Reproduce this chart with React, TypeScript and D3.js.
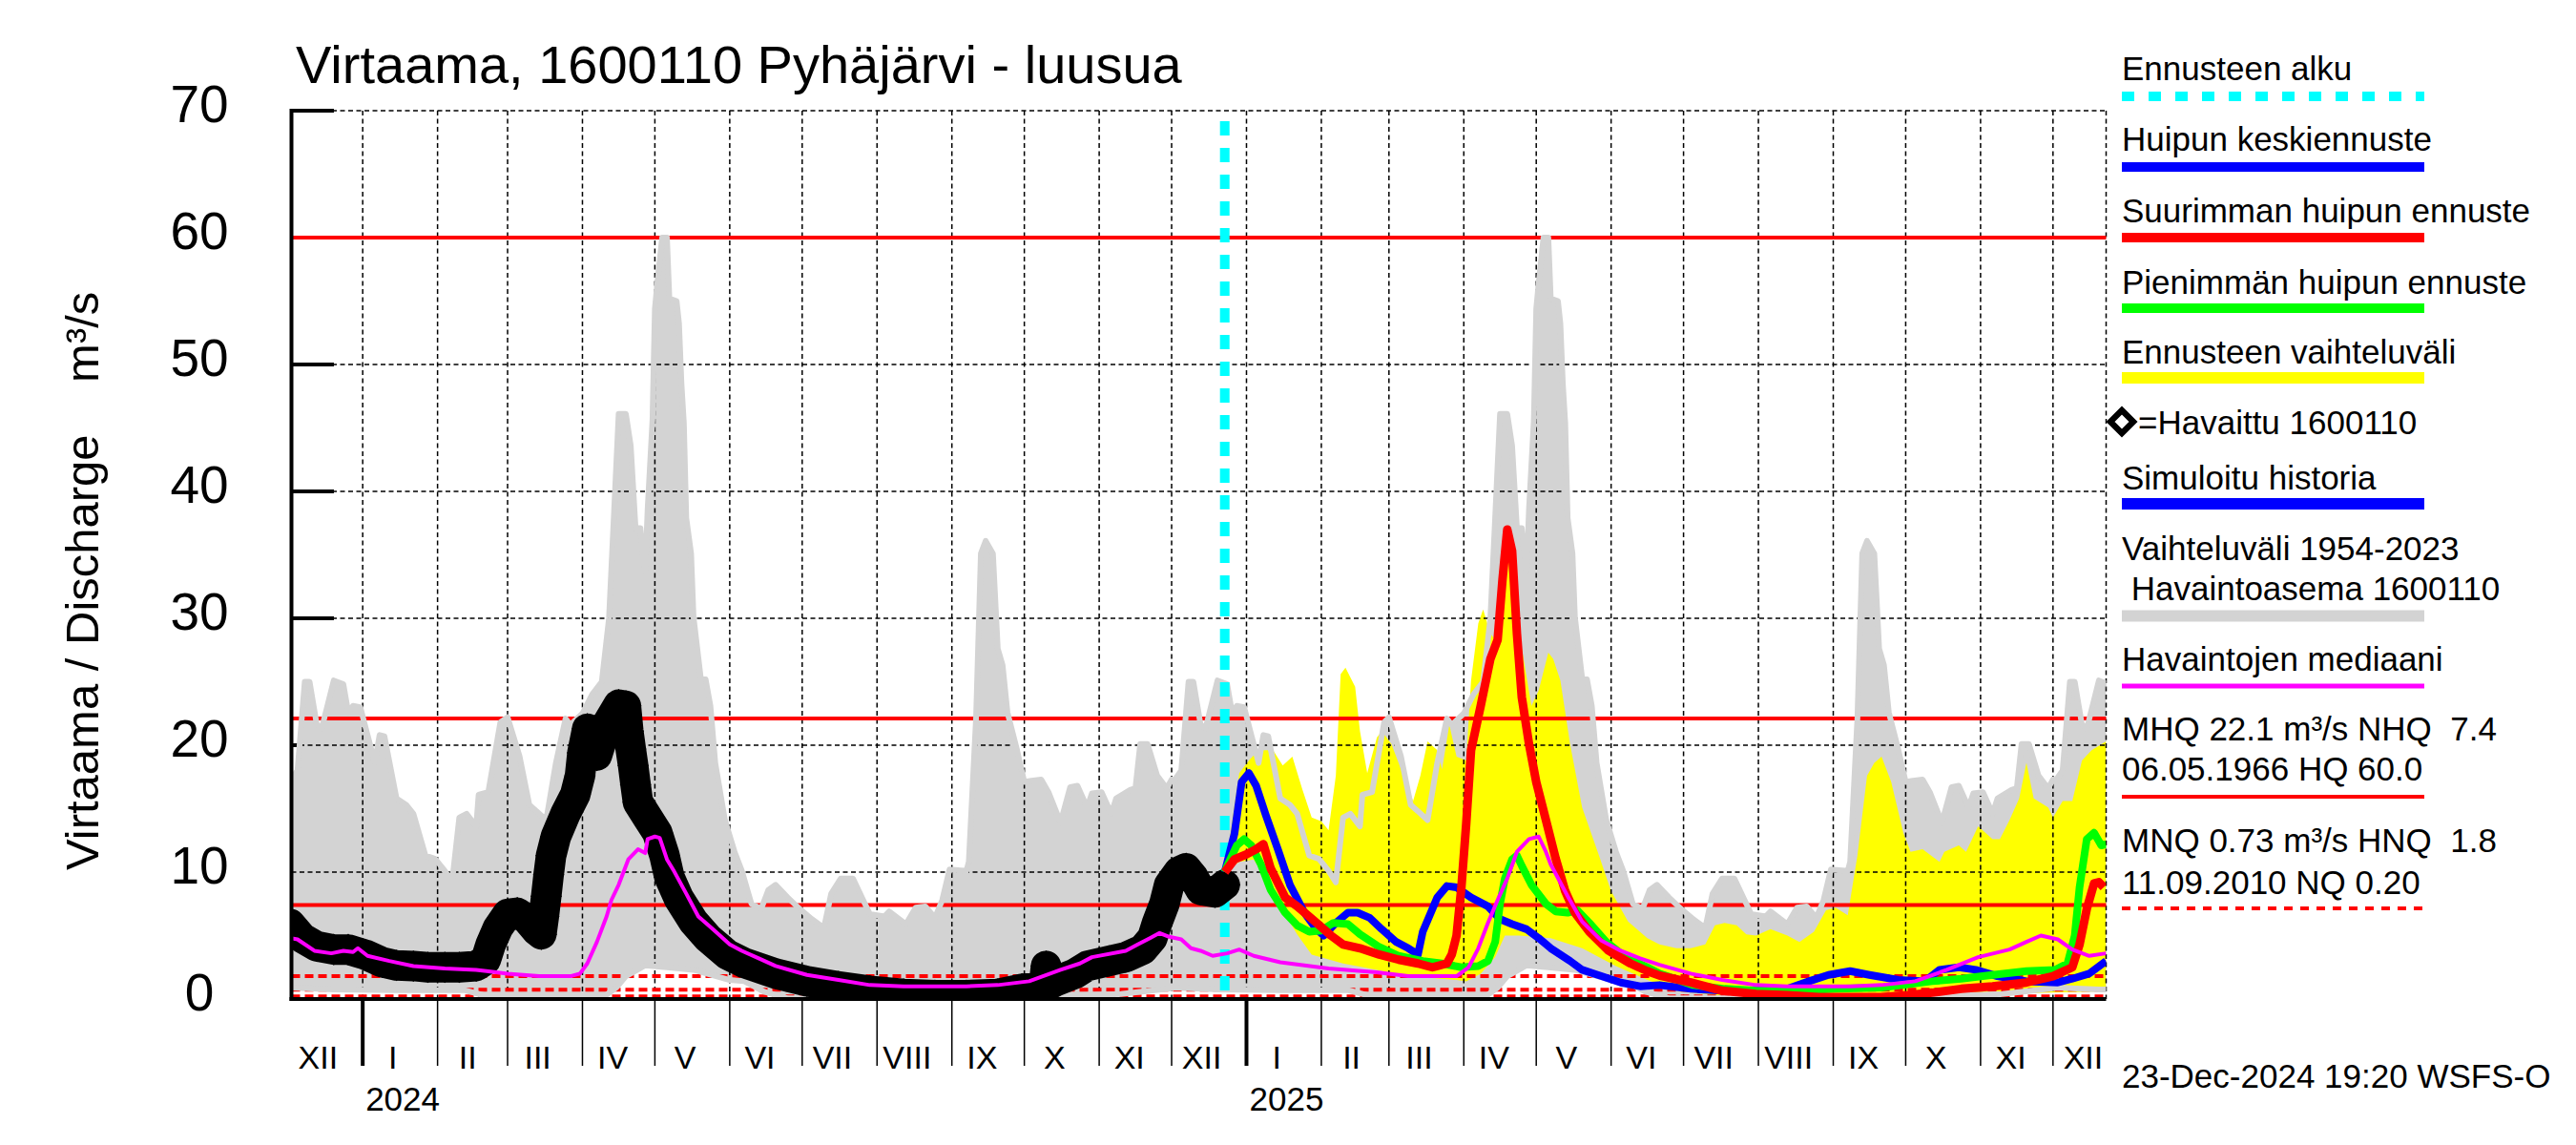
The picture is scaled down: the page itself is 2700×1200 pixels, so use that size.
import * as d3 from 'd3'

type Pt = [string, number]
interface Datum { date: Date; value: number }

const W = 2700
const H = 1200
const plotLeft = 305.5
const plotRight = 2207.5
const plotTop = 116
const plotBottom = 1047
const font = "'Liberation Sans', Arial, Helvetica, sans-serif"

// observed daily discharge (read every few days)
const observed: Pt[] = [
  ['2023-12-02', 5.9], ['2023-12-07', 4.8], ['2023-12-13', 4.15], ['2023-12-20', 3.9], ['2023-12-26', 3.9],
  ['2024-01-02', 3.5], ['2024-01-09', 2.9], ['2024-01-15', 2.65], ['2024-01-22', 2.6], ['2024-01-28', 2.5],
  ['2024-02-04', 2.5], ['2024-02-10', 2.5], ['2024-02-17', 2.6], ['2024-02-21', 3.1], ['2024-02-23', 4.3],
  ['2024-02-26', 5.6], ['2024-03-01', 6.7], ['2024-03-05', 6.8], ['2024-03-09', 6.3], ['2024-03-13', 5.4],
  ['2024-03-15', 5.1], ['2024-03-16', 6.5], ['2024-03-17', 8.1], ['2024-03-18', 9.8], ['2024-03-19', 11.3],
  ['2024-03-21', 12.8], ['2024-03-25', 14.6], ['2024-03-29', 16.1], ['2024-03-31', 17.6], ['2024-04-01', 19.4],
  ['2024-04-03', 21.3], ['2024-04-07', 19.2], ['2024-04-11', 21.6], ['2024-04-16', 23.2], ['2024-04-19', 23.1],
  ['2024-04-20', 21.1], ['2024-04-21', 19.7], ['2024-04-22', 18.4], ['2024-04-23', 16.9], ['2024-04-24', 15.5],
  ['2024-04-28', 14.3], ['2024-05-02', 13.1], ['2024-05-05', 11.3], ['2024-05-07', 9.6], ['2024-05-11', 7.9],
  ['2024-05-17', 6.1], ['2024-05-23', 4.8], ['2024-05-31', 3.5], ['2024-06-07', 2.85], ['2024-06-20', 2.0],
  ['2024-07-03', 1.4], ['2024-07-16', 1.0], ['2024-07-29', 0.65], ['2024-08-12', 0.4], ['2024-08-25', 0.3],
  ['2024-09-07', 0.3], ['2024-09-20', 0.4], ['2024-09-30', 0.8], ['2024-10-09', 1.0], ['2024-10-10', 2.6],
  ['2024-10-11', 1.1], ['2024-10-14', 1.4], ['2024-10-22', 2.0], ['2024-10-27', 2.6], ['2024-11-05', 3.0],
  ['2024-11-12', 3.3], ['2024-11-19', 3.9], ['2024-11-23', 4.8], ['2024-11-25', 6.0], ['2024-11-28', 7.5],
  ['2024-11-30', 9.0], ['2024-12-04', 10.05], ['2024-12-07', 10.3], ['2024-12-10', 9.6], ['2024-12-13', 8.6],
  ['2024-12-19', 8.4], ['2024-12-23', 9.0],
]

// simulated history (mostly hidden under the observations)
const simulated: Pt[] = [
  ['2023-12-02', 5.6], ['2023-12-20', 3.8], ['2024-01-15', 2.7], ['2024-02-17', 2.6], ['2024-02-26', 5.4],
  ['2024-03-05', 6.6], ['2024-03-15', 5.3], ['2024-03-17', 8.1], ['2024-03-19', 11.3], ['2024-03-29', 18.1],
  ['2024-03-31', 16.8], ['2024-04-02', 21.3], ['2024-04-16', 22.6], ['2024-04-20', 19.8], ['2024-04-22', 16.9],
  ['2024-05-02', 13.0], ['2024-05-17', 6.0], ['2024-06-20', 2.0], ['2024-08-12', 0.45], ['2024-09-20', 0.45],
  ['2024-10-22', 2.0], ['2024-11-19', 3.9], ['2024-11-28', 7.4], ['2024-12-07', 10.2], ['2024-12-19', 8.4],
  ['2024-12-23', 9.0],
]

// 1954-2023 range, one year from 2 Dec, repeated for following years
const climateMax: Pt[] = [
  ['2023-12-02', 17.2], ['2023-12-05', 18.0], ['2023-12-08', 25.0], ['2023-12-10', 25.0], ['2023-12-13', 21.6],
  ['2023-12-15', 21.3], ['2023-12-20', 25.1], ['2023-12-24', 24.8], ['2023-12-26', 22.6], ['2023-12-28', 23.1],
  ['2023-12-31', 23.0], ['2024-01-03', 20.8], ['2024-01-06', 18.6], ['2024-01-08', 20.8], ['2024-01-10', 20.7],
  ['2024-01-15', 15.8], ['2024-01-19', 15.3], ['2024-01-22', 14.6], ['2024-01-27', 11.3], ['2024-01-31', 11.05],
  ['2024-02-04', 10.1], ['2024-02-07', 9.2], ['2024-02-10', 14.3], ['2024-02-13', 14.6], ['2024-02-17', 13.6],
  ['2024-02-18', 16.1], ['2024-02-22', 16.3], ['2024-02-27', 21.8], ['2024-03-01', 22.2], ['2024-03-06', 19.1],
  ['2024-03-10', 15.3], ['2024-03-13', 14.8], ['2024-03-17', 14.1], ['2024-03-21', 18.6], ['2024-03-25', 22.1],
  ['2024-03-27', 21.6], ['2024-04-01', 22.5], ['2024-04-05', 24.0], ['2024-04-09', 25.0], ['2024-04-12', 30.0],
  ['2024-04-14', 38.0], ['2024-04-16', 46.1], ['2024-04-19', 46.1], ['2024-04-21', 43.6], ['2024-04-23', 37.1],
  ['2024-04-25', 37.1], ['2024-04-26', 35.1], ['2024-04-27', 33.7], ['2024-04-28', 38.6], ['2024-04-30', 45.6],
  ['2024-05-01', 54.4], ['2024-05-02', 56.4], ['2024-05-04', 60.0], ['2024-05-06', 60.0], ['2024-05-07', 55.2],
  ['2024-05-10', 55.0], ['2024-05-11', 53.2], ['2024-05-12', 48.5], ['2024-05-13', 45.4], ['2024-05-14', 37.9],
  ['2024-05-16', 35.1], ['2024-05-17', 30.1], ['2024-05-20', 25.3], ['2024-05-22', 25.2], ['2024-05-24', 23.1],
  ['2024-05-26', 18.6], ['2024-05-30', 14.1], ['2024-06-03', 11.6], ['2024-06-06', 10.1], ['2024-06-10', 7.5],
  ['2024-06-14', 7.1], ['2024-06-17', 8.6], ['2024-06-20', 9.0], ['2024-06-25', 8.0], ['2024-06-30', 7.1],
  ['2024-07-05', 6.3], ['2024-07-10', 5.6], ['2024-07-13', 8.3], ['2024-07-17', 9.5], ['2024-07-22', 9.5],
  ['2024-07-27', 7.5], ['2024-07-29', 6.7], ['2024-08-04', 6.5], ['2024-08-06', 6.9], ['2024-08-13', 5.9],
  ['2024-08-17', 7.2], ['2024-08-21', 7.3], ['2024-08-25', 6.4], ['2024-08-28', 7.8], ['2024-08-31', 10.2],
  ['2024-09-07', 10.1], ['2024-09-08', 10.8], ['2024-09-11', 22.1], ['2024-09-13', 35.1], ['2024-09-15', 36.1],
  ['2024-09-18', 35.1], ['2024-09-20', 27.6], ['2024-09-22', 26.3], ['2024-09-24', 22.6], ['2024-09-28', 19.6],
  ['2024-10-01', 17.1], ['2024-10-04', 17.2], ['2024-10-08', 17.3], ['2024-10-11', 16.3], ['2024-10-16', 13.9],
  ['2024-10-20', 16.7], ['2024-10-23', 16.8], ['2024-10-27', 15.1], ['2024-10-29', 16.2], ['2024-11-02', 16.3],
  ['2024-11-06', 14.6], ['2024-11-08', 15.8], ['2024-11-14', 16.5], ['2024-11-16', 16.6], ['2024-11-18', 20.1],
  ['2024-11-21', 20.1], ['2024-11-25', 17.6], ['2024-11-29', 16.6], ['2024-12-01', 17.3],
]

const climateMin: Pt[] = [
  ['2023-12-02', 0.9], ['2023-12-20', 0.75], ['2024-01-15', 0.7], ['2024-02-12', 0.7], ['2024-02-20', 0.3],
  ['2024-04-10', 0.2], ['2024-04-15', 0.9], ['2024-04-19', 1.8], ['2024-04-27', 2.65], ['2024-05-06', 2.5],
  ['2024-05-17', 2.3], ['2024-06-01', 1.5], ['2024-06-07', 1.4], ['2024-06-15', 0.6], ['2024-06-25', 0.05],
  ['2024-09-25', 0.05], ['2024-10-10', 0.2], ['2024-11-10', 0.4], ['2024-12-01', 0.85],
]

// forecast ensemble range
const forecastMax: Pt[] = [
  ['2024-12-23', 10.0], ['2024-12-29', 17.8], ['2025-01-02', 18.8], ['2025-01-06', 19.6], ['2025-01-12', 19.6],
  ['2025-01-16', 18.4], ['2025-01-20', 19.1], ['2025-01-24', 16.6], ['2025-01-28', 14.3], ['2025-02-01', 14.0],
  ['2025-02-04', 13.3], ['2025-02-07', 17.6], ['2025-02-09', 25.6], ['2025-02-11', 26.1], ['2025-02-15', 24.6],
  ['2025-02-17', 21.1], ['2025-02-20', 17.8], ['2025-02-24', 20.6], ['2025-02-26', 21.1], ['2025-03-02', 20.1],
  ['2025-03-07', 17.6], ['2025-03-11', 15.6], ['2025-03-14', 17.6], ['2025-03-17', 20.3], ['2025-03-21', 19.6],
  ['2025-03-23', 18.1], ['2025-03-26', 21.6], ['2025-03-29', 19.1], ['2025-04-02', 18.8], ['2025-04-04', 25.1],
  ['2025-04-07', 29.6], ['2025-04-09', 30.7], ['2025-04-12', 28.8], ['2025-04-14', 28.3], ['2025-04-15', 28.6],
  ['2025-04-17', 33.0], ['2025-04-19', 37.0], ['2025-04-21', 35.3], ['2025-04-24', 28.8], ['2025-04-29', 23.1],
  ['2025-05-02', 24.3], ['2025-05-06', 27.3], ['2025-05-08', 26.8], ['2025-05-11', 25.1], ['2025-05-15', 20.1],
  ['2025-05-20', 15.1], ['2025-05-27', 11.3], ['2025-06-01', 8.5], ['2025-06-08', 6.1], ['2025-06-16', 4.8],
  ['2025-06-21', 4.3], ['2025-06-28', 4.0], ['2025-07-04', 4.0], ['2025-07-10', 4.3], ['2025-07-14', 5.8],
  ['2025-07-18', 6.0], ['2025-07-23', 5.8], ['2025-07-27', 5.1], ['2025-07-31', 5.0], ['2025-08-06', 5.5],
  ['2025-08-13', 5.0], ['2025-08-18', 4.5], ['2025-08-24', 5.3], ['2025-08-29', 7.0], ['2025-09-02', 7.2],
  ['2025-09-07', 6.6], ['2025-09-11', 11.3], ['2025-09-15', 17.6], ['2025-09-18', 18.6], ['2025-09-21', 19.1],
  ['2025-09-25', 17.1], ['2025-09-30', 13.1], ['2025-10-03', 11.6], ['2025-10-08', 11.8], ['2025-10-15', 10.8],
  ['2025-10-17', 11.6], ['2025-10-23', 12.1], ['2025-10-26', 11.6], ['2025-10-31', 13.6], ['2025-11-06', 12.6],
  ['2025-11-09', 12.6], ['2025-11-13', 14.1], ['2025-11-17', 15.8], ['2025-11-20', 18.6], ['2025-11-23', 15.8],
  ['2025-11-29', 15.1], ['2025-12-01', 14.3], ['2025-12-05', 15.6], ['2025-12-09', 15.6], ['2025-12-13', 18.8],
  ['2025-12-17', 19.6], ['2025-12-23', 20.3],
]

const forecastMin: Pt[] = [
  ['2024-12-23', 10.0], ['2024-12-29', 10.8], ['2025-01-04', 11.0], ['2025-01-09', 9.5], ['2025-01-15', 7.3],
  ['2025-01-22', 5.1], ['2025-01-28', 3.5], ['2025-02-10', 2.8], ['2025-02-24', 2.3], ['2025-03-09', 1.8],
  ['2025-03-29', 1.5], ['2025-04-02', 1.4], ['2025-04-08', 2.0], ['2025-04-14', 3.3], ['2025-04-18', 5.0],
  ['2025-04-24', 5.0], ['2025-05-07', 4.8], ['2025-05-20', 4.0], ['2025-06-03', 2.6], ['2025-06-16', 1.5],
  ['2025-06-29', 0.6], ['2025-07-15', 0.3], ['2025-08-24', 0.25], ['2025-10-02', 0.3], ['2025-11-10', 0.4],
  ['2025-11-30', 0.5], ['2025-12-23', 0.6],
]

// Huipun keskiennuste
const peakMean: Pt[] = [
  ['2024-12-23', 10.0], ['2024-12-27', 13.0], ['2024-12-30', 17.1], ['2025-01-02', 17.8], ['2025-01-05', 16.8],
  ['2025-01-09', 14.5], ['2025-01-14', 11.8], ['2025-01-19', 9.0], ['2025-01-25', 6.8], ['2025-01-30', 5.5],
  ['2025-02-02', 5.0], ['2025-02-07', 6.0], ['2025-02-12', 6.8], ['2025-02-16', 6.8], ['2025-02-21', 6.4],
  ['2025-02-26', 5.5], ['2025-03-04', 4.5], ['2025-03-09', 4.0], ['2025-03-13', 3.5], ['2025-03-15', 5.3],
  ['2025-03-21', 8.0], ['2025-03-25', 8.9], ['2025-03-29', 8.8], ['2025-04-04', 8.0], ['2025-04-11', 7.3],
  ['2025-04-16', 6.3], ['2025-04-21', 5.9], ['2025-04-27', 5.5], ['2025-05-02', 4.8], ['2025-05-07', 4.0],
  ['2025-05-15', 3.0], ['2025-05-20', 2.3], ['2025-05-28', 1.8], ['2025-06-05', 1.3], ['2025-06-13', 1.0],
  ['2025-06-21', 1.1], ['2025-07-04', 0.8], ['2025-07-17', 0.65], ['2025-07-31', 0.65], ['2025-08-13', 0.8],
  ['2025-08-22', 1.4], ['2025-08-30', 1.9], ['2025-09-08', 2.2], ['2025-09-16', 1.9], ['2025-09-28', 1.5],
  ['2025-10-09', 1.4], ['2025-10-15', 2.3], ['2025-10-23', 2.5], ['2025-10-30', 2.3], ['2025-11-08', 1.8],
  ['2025-11-20', 1.4], ['2025-12-03', 1.3], ['2025-12-09', 1.6], ['2025-12-16', 2.0], ['2025-12-23', 3.0],
]

// Suurimman huipun ennuste
const peakHigh: Pt[] = [
  ['2024-12-23', 10.0], ['2024-12-27', 11.0], ['2025-01-01', 11.4], ['2025-01-05', 11.8], ['2025-01-08', 12.2],
  ['2025-01-11', 10.3], ['2025-01-17', 8.0], ['2025-01-22', 7.3], ['2025-01-30', 6.0], ['2025-02-05', 5.0],
  ['2025-02-10', 4.3], ['2025-02-17', 4.0], ['2025-02-25', 3.5], ['2025-03-05', 3.1], ['2025-03-13', 2.8],
  ['2025-03-19', 2.5], ['2025-03-25', 2.8], ['2025-03-27', 3.5], ['2025-03-29', 5.0], ['2025-03-31', 8.8],
  ['2025-04-02', 13.8], ['2025-04-04', 19.6], ['2025-04-08', 23.1], ['2025-04-12', 26.8], ['2025-04-15', 28.3],
  ['2025-04-17', 33.0], ['2025-04-19', 37.0], ['2025-04-21', 35.3], ['2025-04-23', 28.8], ['2025-04-25', 23.8],
  ['2025-04-28', 20.1], ['2025-05-01', 17.1], ['2025-05-05', 14.1], ['2025-05-09', 11.1], ['2025-05-13', 8.5],
  ['2025-05-17', 6.8], ['2025-05-23', 5.3], ['2025-05-31', 3.8], ['2025-06-09', 2.8], ['2025-06-16', 2.2],
  ['2025-06-21', 1.85], ['2025-07-04', 1.3], ['2025-07-17', 0.65], ['2025-07-31', 0.4], ['2025-08-13', 0.3],
  ['2025-08-26', 0.15], ['2025-09-08', 0.15], ['2025-09-21', 0.15], ['2025-10-02', 0.3], ['2025-10-12', 0.5],
  ['2025-10-24', 0.8], ['2025-11-06', 1.0], ['2025-11-20', 1.3], ['2025-12-01', 1.8], ['2025-12-09', 2.5],
  ['2025-12-12', 4.3], ['2025-12-15', 7.1], ['2025-12-18', 9.1], ['2025-12-20', 9.2], ['2025-12-22', 8.8],
]

// Pienimmän huipun ennuste
const peakLow: Pt[] = [
  ['2024-12-23', 10.0], ['2024-12-24', 10.5], ['2024-12-28', 12.1], ['2024-12-31', 12.6], ['2025-01-03', 12.1],
  ['2025-01-07', 10.6], ['2025-01-11', 8.6], ['2025-01-17', 6.8], ['2025-01-22', 5.8], ['2025-01-27', 5.3],
  ['2025-02-01', 5.4], ['2025-02-06', 6.0], ['2025-02-12', 5.9], ['2025-02-17', 5.1], ['2025-02-25', 4.1],
  ['2025-03-05', 3.4], ['2025-03-15', 3.0], ['2025-03-23', 2.8], ['2025-03-31', 2.5], ['2025-04-07', 2.6],
  ['2025-04-11', 3.0], ['2025-04-14', 4.5], ['2025-04-16', 7.5], ['2025-04-18', 9.5], ['2025-04-21', 11.0],
  ['2025-04-23', 11.3], ['2025-04-25', 10.5], ['2025-04-29', 9.0], ['2025-05-05', 7.5], ['2025-05-09', 6.9],
  ['2025-05-14', 6.8], ['2025-05-18', 7.0], ['2025-05-23', 6.0], ['2025-05-30', 4.5], ['2025-06-07', 3.3],
  ['2025-06-16', 2.5], ['2025-06-21', 2.0], ['2025-07-05', 1.1], ['2025-07-18', 0.8], ['2025-07-31', 0.65],
  ['2025-08-20', 0.65], ['2025-09-02', 0.8], ['2025-09-21', 0.9], ['2025-10-12', 1.4], ['2025-10-24', 1.6],
  ['2025-11-06', 1.9], ['2025-11-20', 2.2], ['2025-12-02', 2.3], ['2025-12-07', 2.8], ['2025-12-10', 5.0],
  ['2025-12-12', 8.8], ['2025-12-15', 12.6], ['2025-12-18', 13.1], ['2025-12-21', 12.1], ['2025-12-23', 12.2],
]

// Havaintojen mediaani
const median: Pt[] = [
  ['2023-12-02', 4.8], ['2023-12-05', 4.7], ['2023-12-12', 3.8], ['2023-12-19', 3.6], ['2023-12-24', 3.8],
  ['2023-12-28', 3.7], ['2023-12-30', 4.0], ['2024-01-03', 3.4], ['2024-01-12', 3.0], ['2024-01-22', 2.6],
  ['2024-02-04', 2.4], ['2024-02-17', 2.3], ['2024-03-01', 2.0], ['2024-03-14', 1.8], ['2024-03-27', 1.8],
  ['2024-03-31', 2.0], ['2024-04-03', 2.8], ['2024-04-07', 4.5], ['2024-04-11', 6.5], ['2024-04-13', 7.8],
  ['2024-04-16', 9.0], ['2024-04-20', 11.0], ['2024-04-24', 11.8], ['2024-04-27', 11.5], ['2024-04-28', 12.6],
  ['2024-05-01', 12.8], ['2024-05-03', 12.7], ['2024-05-06', 11.0], ['2024-05-09', 10.05], ['2024-05-14', 8.3],
  ['2024-05-19', 6.5], ['2024-05-25', 5.5], ['2024-06-01', 4.3], ['2024-06-06', 3.8], ['2024-06-13', 3.2],
  ['2024-06-20', 2.6], ['2024-07-03', 1.9], ['2024-07-16', 1.5], ['2024-07-29', 1.1], ['2024-08-12', 1.0],
  ['2024-08-25', 1.0], ['2024-09-07', 1.0], ['2024-09-20', 1.1], ['2024-10-03', 1.4], ['2024-10-16', 2.3],
  ['2024-10-24', 2.8], ['2024-10-29', 3.3], ['2024-11-12', 3.8], ['2024-11-17', 4.3], ['2024-11-22', 4.8],
  ['2024-11-26', 5.2], ['2024-11-30', 4.9], ['2024-12-05', 4.7], ['2024-12-09', 4.0], ['2024-12-13', 3.8],
  ['2024-12-18', 3.4], ['2024-12-24', 3.6], ['2024-12-29', 3.9], ['2025-01-04', 3.4], ['2025-01-15', 2.9],
  ['2025-02-04', 2.4], ['2025-02-24', 2.1], ['2025-03-09', 1.8], ['2025-03-29', 1.8], ['2025-04-03', 2.5],
  ['2025-04-07', 4.0], ['2025-04-11', 6.0], ['2025-04-15', 7.8], ['2025-04-19', 9.5], ['2025-04-23', 11.6],
  ['2025-04-28', 12.6], ['2025-05-02', 12.8], ['2025-05-05', 11.6], ['2025-05-07', 10.6], ['2025-05-14', 8.1],
  ['2025-05-20', 6.1], ['2025-05-28', 4.6], ['2025-06-05', 3.8], ['2025-06-13', 3.2], ['2025-06-21', 2.7],
  ['2025-07-04', 2.0], ['2025-07-17', 1.5], ['2025-07-31', 1.1], ['2025-08-13', 1.0], ['2025-09-08', 1.0],
  ['2025-09-21', 1.1], ['2025-10-05', 1.4], ['2025-10-18', 2.3], ['2025-10-31', 3.3], ['2025-11-13', 3.9],
  ['2025-11-20', 4.5], ['2025-11-26', 5.0], ['2025-12-03', 4.7], ['2025-12-09', 3.9], ['2025-12-16', 3.4],
  ['2025-12-23', 3.6],
]

const solidLevels = [60.0, 22.1, 7.4] // HQ, MHQ, NHQ
const dashedLevels = [1.8, 0.73, 0.2] // HNQ, MNQ, NQ
const monthNames = ['I', 'II', 'III', 'IV', 'V', 'VI', 'VII', 'VIII', 'IX', 'X', 'XI', 'XII']
const yearLabels = ['2024', '2025']
const forecastStart = '2024-12-23'

const parseDay = d3.timeParse('%Y-%m-%d')
const toSeries = (pts: Pt[]): Datum[] => pts.map(([d, v]) => ({ date: parseDay(d) as Date, value: v }))

const xScale = d3
  .scaleTime()
  .domain([new Date(2023, 11, 2, 12), new Date(2025, 11, 23)])
  .range([plotLeft, plotRight])
const yScale = d3.scaleLinear().domain([0, 70]).range([plotBottom, plotTop])

const lineGen = d3
  .line<Datum>()
  .x((d) => xScale(d.date))
  .y((d) => yScale(d.value))

function bandPath(upper: Datum[], lower: Datum[]) {
  const a = lineGen(upper) ?? ''
  const b = lineGen([...lower].reverse()) ?? ''
  return a + b.replace(/^M/, 'L') + 'Z'
}

function repeatYears(pts: Pt[], years: number[]): Datum[] {
  const base = toSeries(pts)
  return years.flatMap((k) => base.map((d) => ({ date: d3.timeYear.offset(d.date, k), value: d.value })))
}

export default function App() {
  const climMaxAll = repeatYears(climateMax, [0, 1, 2])
  const climMinAll = repeatYears(climateMin, [0, 1, 2])
  const grayBand = bandPath(climMaxAll, climMinAll)
  const yellowBand = bandPath(toSeries(forecastMax), toSeries(forecastMin))
  const obs = toSeries(observed)

  const yTicks = yScale.ticks(7)
  const monthStarts = d3.timeMonth.range(new Date(2024, 0, 1), new Date(2025, 11, 2))
  const labelMonths = d3.timeMonth.range(new Date(2023, 11, 1), new Date(2025, 11, 2))
  const yearStarts = yearLabels.map((y) => new Date(+y, 0, 1))
  const xStart = xScale(parseDay(forecastStart) as Date)

  const gridColor = '#000'
  const gray = '#d3d3d3'
  const lx1 = 2224
  const lx2 = 2541
  const diamond = 'M0,-12L12,0L0,12L-12,0Z'

  return (
    <svg width={W} height={H} viewBox={`0 0 ${W} ${H}`} style={{ display: 'block', background: '#fff' }} fontFamily={font}>
      <style>{'body{margin:0}'}</style>
      <defs>
        <clipPath id="plot-clip">
          <rect x={plotLeft} y={100} width={plotRight - plotLeft} height={plotBottom - 100 + 2} />
        </clipPath>
      </defs>
      <rect x={0} y={0} width={W} height={H} fill="#fff" />

      <text x={310} y={87} fontSize={56}>Virtaama, 1600110 Pyhäjärvi - luusua</text>

      {/* y ticks under the range band */}
      {yTicks.map((t) => (
        <line key={`yt${t}`} x1={plotLeft} x2={350} y1={yScale(t)} y2={yScale(t)} stroke="#000" strokeWidth={4} />
      ))}

      <g clipPath="url(#plot-clip)">
        <path d={grayBand} fill={gray} />
        <path d={yellowBand} fill="#ffff00" />
      </g>

      {/* grid */}
      {yTicks.filter((t) => t > 0).map((t) => (
        <line key={`gh${t}`} x1={plotLeft} x2={plotRight} y1={yScale(t)} y2={yScale(t)} stroke={gridColor} strokeWidth={1.5} strokeDasharray="5 3.5" />
      ))}
      {monthStarts.map((m) => (
        <line key={`gv${+m}`} x1={xScale(m)} x2={xScale(m)} y1={plotTop} y2={plotBottom} stroke={gridColor} strokeWidth={1.5} strokeDasharray="5 3.5" />
      ))}
      <line x1={plotRight} x2={plotRight} y1={plotTop} y2={plotBottom} stroke={gridColor} strokeWidth={1.5} strokeDasharray="5 3.5" />

      {/* reference levels */}
      {solidLevels.map((v) => (
        <line key={`rs${v}`} x1={plotLeft} x2={plotRight} y1={yScale(v)} y2={yScale(v)} stroke="#ff0000" strokeWidth={4} />
      ))}
      {dashedLevels.map((v) => (
        <line key={`rd${v}`} x1={plotLeft} x2={plotRight} y1={yScale(v)} y2={yScale(v)} stroke="#ff0000" strokeWidth={4} strokeDasharray="9 5" />
      ))}

      <g clipPath="url(#plot-clip)">
        <path d={lineGen(climMaxAll) ?? ''} fill="none" stroke={gray} strokeWidth={6} strokeLinejoin="round" />
        <path d={lineGen(climMinAll) ?? ''} fill="none" stroke={gray} strokeWidth={6} strokeLinejoin="round" />
      </g>

      <line x1={xStart} x2={xStart} y1={127} y2={plotBottom} stroke="#00ffff" strokeWidth={10} strokeDasharray="15 13" />

      <g clipPath="url(#plot-clip)">
        <path d={lineGen(toSeries(simulated)) ?? ''} fill="none" stroke="#0000ff" strokeWidth={4} />
        <path d={lineGen(obs) ?? ''} fill="none" stroke="#000" strokeWidth={32} strokeLinejoin="round" strokeLinecap="round" />
        {obs.map((d) => (
          <path key={`ob${+d.date}`} d={diamond} transform={`translate(${xScale(d.date)},${yScale(d.value)})`} fill="none" stroke="#000" strokeWidth={6.4} />
        ))}
        <path d={lineGen(toSeries(peakMean)) ?? ''} fill="none" stroke="#0000ff" strokeWidth={8} strokeLinejoin="round" />
        <path d={lineGen(toSeries(peakLow)) ?? ''} fill="none" stroke="#00ff00" strokeWidth={8} strokeLinejoin="round" />
        <path d={lineGen(toSeries(peakHigh)) ?? ''} fill="none" stroke="#ff0000" strokeWidth={9} strokeLinejoin="round" />
        <path d={lineGen(toSeries(median)) ?? ''} fill="none" stroke="#ff00ff" strokeWidth={4} strokeLinejoin="round" />
      </g>

      {/* axes */}
      <line x1={plotLeft} x2={plotLeft} y1={plotTop - 2} y2={plotBottom + 2} stroke="#000" strokeWidth={4} />
      <line x1={plotLeft - 2} x2={plotRight} y1={plotBottom} y2={plotBottom} stroke="#000" strokeWidth={4} />
      {yTicks.map((t) => (
        <text key={`yl${t}`} x={209} y={yScale(t) + 12} fontSize={55} textAnchor="middle">{t}</text>
      ))}
      <text transform={`translate(103,912) rotate(-90)`} fontSize={49} style={{ whiteSpace: 'pre' }}>
        {'Virtaama / Discharge    m³/s'}
      </text>

      {monthStarts.map((m) => (
        <line key={`mt${+m}`} x1={xScale(m)} x2={xScale(m)} y1={plotBottom} y2={1117} stroke="#000" strokeWidth={m.getMonth() === 0 ? 4 : 1.5} />
      ))}
      {labelMonths.map((m) => (
        <text key={`ml${+m}`} x={xScale(d3.timeHour.offset(m, 300))} y={1120} fontSize={34} textAnchor="middle">
          {monthNames[m.getMonth()]}
        </text>
      ))}
      {yearStarts.map((d, i) => (
        <text key={`yr${i}`} x={xScale(d) + 3} y={1164} fontSize={35}>{yearLabels[i]}</text>
      ))}

      {/* legend */}
      <g fontSize={35}>
        <text x={lx1} y={84}>Ennusteen alku</text>
        <line x1={lx1} x2={lx2} y1={101} y2={101} stroke="#00ffff" strokeWidth={10} strokeDasharray="13 15" />
        <text x={lx1} y={158}>Huipun keskiennuste</text>
        <line x1={lx1} x2={lx2} y1={175} y2={175} stroke="#0000ff" strokeWidth={10} />
        <text x={lx1} y={233}>Suurimman huipun ennuste</text>
        <line x1={lx1} x2={lx2} y1={249} y2={249} stroke="#ff0000" strokeWidth={10} />
        <text x={lx1} y={308}>Pienimmän huipun ennuste</text>
        <line x1={lx1} x2={lx2} y1={323} y2={323} stroke="#00ff00" strokeWidth={10} />
        <text x={lx1} y={381}>Ennusteen vaihteluväli</text>
        <line x1={lx1} x2={lx2} y1={396} y2={396} stroke="#ffff00" strokeWidth={12} />
        <path d={diamond} transform={`translate(${lx1},442)`} fill="none" stroke="#000" strokeWidth={6.4} />
        <text x={lx1 + 17} y={455}>=Havaittu 1600110</text>
        <text x={lx1} y={513}>Simuloitu historia</text>
        <line x1={lx1} x2={lx2} y1={528} y2={528} stroke="#0000ff" strokeWidth={12} />
        <text x={lx1} y={587}>Vaihteluväli 1954-2023</text>
        <text x={lx1} y={629} style={{ whiteSpace: 'pre' }}>{' Havaintoasema 1600110'}</text>
        <line x1={lx1} x2={lx2} y1={645.5} y2={645.5} stroke={gray} strokeWidth={12} />
        <text x={lx1} y={703}>Havaintojen mediaani</text>
        <line x1={lx1} x2={lx2} y1={719} y2={719} stroke="#ff00ff" strokeWidth={5} />
        <text x={lx1} y={776} style={{ whiteSpace: 'pre' }}>{'MHQ 22.1 m³/s NHQ  7.4'}</text>
        <text x={lx1} y={818}>06.05.1966 HQ 60.0</text>
        <line x1={lx1} x2={lx2} y1={835} y2={835} stroke="#ff0000" strokeWidth={4} />
        <text x={lx1} y={893} style={{ whiteSpace: 'pre' }}>{'MNQ 0.73 m³/s HNQ  1.8'}</text>
        <text x={lx1} y={937}>11.09.2010 NQ 0.20</text>
        <line x1={lx1} x2={lx2} y1={952} y2={952} stroke="#ff0000" strokeWidth={4} strokeDasharray="9 8" />
        <text x={lx1} y={1140}>23-Dec-2024 19:20 WSFS-O</text>
      </g>
    </svg>
  )
}
